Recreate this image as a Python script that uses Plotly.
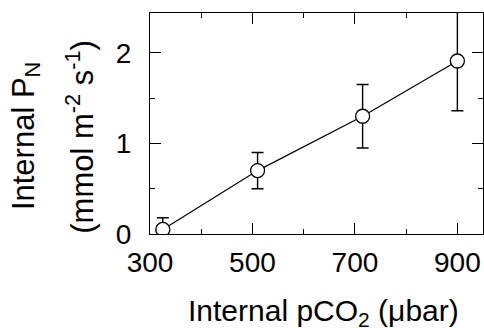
import plotly.graph_objects as go

pco2 = [325, 510, 715, 900]
pn = [0.05, 0.70, 1.30, 1.91]
pn_err = [0.13, 0.20, 0.35, 0.55]
x_ticks = [300, 500, 700, 900]
y_ticks = [0, 1, 2]

FONT = "Arial, Liberation Sans, sans-serif"

fig = go.Figure()
fig.add_trace(go.Scatter(
    x=pco2, y=pn,
    mode="lines+markers",
    line=dict(color="black", width=1.2),
    marker=dict(symbol="circle", size=14, color="white",
                line=dict(color="black", width=1.3)),
    error_y=dict(type="data", array=pn_err, visible=True,
                 color="black", thickness=1.4, width=6),
    cliponaxis=True,
    showlegend=False,
))

axis_common = dict(
    showline=True, linecolor="black", linewidth=1.2, mirror="ticks",
    ticks="inside", ticklen=11, tickwidth=1.2, tickcolor="black",
    showgrid=False, zeroline=False, automargin=False,
    tickfont=dict(family=FONT, size=28, color="black"),
)

fig.update_xaxes(
    range=[300, 950], tickvals=x_ticks, ticktext=[str(v) for v in x_ticks],
    minor=dict(ticks="inside", ticklen=5, tickwidth=1.2, tickcolor="black", dtick=100, tick0=300),
    ticklabelstandoff=3,
    **axis_common,
)
fig.update_yaxes(
    range=[0, 2.44], tickvals=y_ticks, ticktext=[str(v) for v in y_ticks],
    minor=dict(ticks="inside", ticklen=5, tickwidth=1.2, tickcolor="black", dtick=0.5, tick0=0),
    ticklabelstandoff=12,
    **axis_common,
)

TITLE_SIZE = 30
fig.add_annotation(
    text="Internal pCO<sub>2</sub> (μbar)", xref="paper", yref="paper",
    x=0.52, y=0, yshift=-78, xanchor="center", yanchor="middle",
    showarrow=False, font=dict(family=FONT, size=TITLE_SIZE, color="black"),
)
fig.add_annotation(
    text="Internal P<sub>N</sub>", xref="paper", yref="paper",
    x=0, xshift=-124, y=0.443, textangle=-90, xanchor="center", yanchor="middle",
    showarrow=False, font=dict(family=FONT, size=31, color="black"),
)
fig.add_annotation(
    text="(mmol m<sup>-2</sup> s<sup>-1</sup>)", xref="paper", yref="paper",
    x=0, xshift=-70, y=0.44, textangle=-90, xanchor="center", yanchor="middle",
    showarrow=False, font=dict(family=FONT, size=31, color="black"),
)

fig.update_layout(
    width=484, height=328,
    margin=dict(l=150, r=1, t=13, b=94),
    paper_bgcolor="white", plot_bgcolor="white",
    font=dict(family=FONT, color="black"),
)

fig.write_html(
    "out.html",
    config={"displayModeBar": False},
    post_script="document.body.style.margin='0px';document.body.style.overflow='hidden';",
)
